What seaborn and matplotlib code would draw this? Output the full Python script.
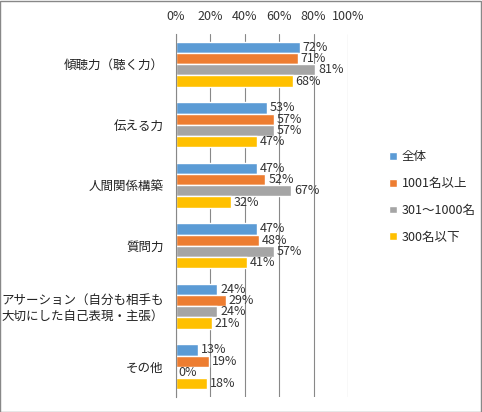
import matplotlib
matplotlib.use("Agg")
import matplotlib.pyplot as plt
import seaborn as sns
import pandas as pd
import numpy as np
from matplotlib.patches import Rectangle
from matplotlib.ticker import FixedLocator, PercentFormatter

categories = ["傾聴力（聴く力）", "伝える力", "人間関係構築", "質問力",
              "アサーション（自分も相手も\n大切にした自己表現・主張）", "その他"]
series = ["全体", "1001名以上", "301～1000名", "300名以下"]
v_all = [72, 53, 47, 47, 24, 13]
v_1001 = [71, 57, 52, 48, 29, 19]
v_301 = [81, 57, 67, 57, 24, 0]
v_300 = [68, 47, 32, 41, 21, 18]
colors = ["#5B9BD5", "#ED7D31", "#A5A5A5", "#FFC000"]

rows = []
for s, vals in zip(series, [v_all, v_1001, v_301, v_300]):
    for c, v in zip(categories, vals):
        rows.append({"category": c, "series": s, "value": v})
df = pd.DataFrame(rows)

sns.set_style("white")
plt.rcParams['font.family'] = ['Noto Sans CJK JP', 'DejaVu Sans']

fig = plt.figure(figsize=(4.82, 4.12), dpi=100)
ax = fig.add_axes([176/482, 1-397/412, (348-176)/482, (397-34)/412])

sns.barplot(data=df, y="category", x="value", hue="series", order=categories,
            hue_order=series, palette=colors, orient="h", width=0.74,
            saturation=1, ax=ax, legend=True)

for cont in ax.containers:
    ax.bar_label(cont, fmt="%d%%", padding=2, fontsize=9, color="#333333")

ax.set_xlim(0, 100)
ax.set_ylim(len(categories)-0.5, -0.5)
ax.xaxis.tick_top()
ax.set_xticks(np.arange(0, 101, 20))
ax.xaxis.set_major_formatter(PercentFormatter(decimals=0))
ax.tick_params(axis="x", length=0, labelsize=9, pad=8, colors="#333333")
ax.tick_params(axis="y", which="major", length=0, labelsize=9, pad=9, colors="#222222")
ax.yaxis.set_minor_locator(FixedLocator(np.arange(-0.5, len(categories), 1)))
ax.tick_params(axis="y", which="minor", length=4, color="#888888", direction="out")
ax.grid(axis="x", color="#888888", linewidth=0.8)
ax.set_axisbelow(True)
for s in ["top", "right", "bottom"]:
    ax.spines[s].set_visible(False)
ax.spines["left"].set_color("#888888")
ax.set_xlabel("")
ax.set_ylabel("")

handles, labels = ax.get_legend_handles_labels()
ax.legend(handles, labels, loc="center left", bbox_to_anchor=(378/482, 215/412),
          bbox_transform=fig.transFigure, frameon=False, fontsize=9,
          handlelength=0.6, handleheight=0.6, handletextpad=0.4, labelspacing=1.1)

fig.patches.append(Rectangle((0.001, 0.001), 0.997, 0.997, transform=fig.transFigure,
                             fill=False, edgecolor="#888888", linewidth=1))

fig.savefig("out.png", dpi=100)
